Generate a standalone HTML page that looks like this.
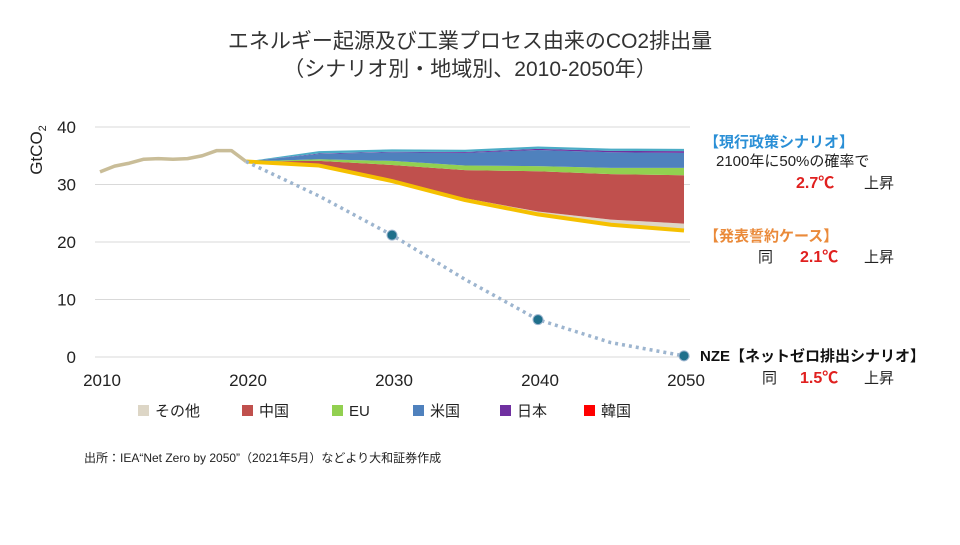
<!DOCTYPE html>
<html><head><meta charset="utf-8"><style>
body{margin:0;background:#fff;}
svg text{font-family:"Liberation Sans","Noto Sans CJK JP",sans-serif;}
</style></head><body>
<svg width="960" height="540" viewBox="0 0 960 540" xmlns="http://www.w3.org/2000/svg">
<g id="title">
<text x="470" y="48" text-anchor="middle" font-size="21" fill="#333">エネルギー起源及び工業プロセス由来のCO2排出量</text>
<text x="470" y="76" text-anchor="middle" font-size="21" fill="#333">（シナリオ別・地域別、2010-2050年）</text>
</g>
<g id="grid"></g>
<g id="areas"></g>
<g id="lines"></g>
<g id="axes"></g>
<text transform="translate(42,150) rotate(-90)" text-anchor="middle" font-size="17" fill="#222">GtCO<tspan font-size="11" dy="4">2</tspan></text>
<g>
<text x="704" y="147" font-size="15" font-weight="bold" fill="#2a8fd6">【現行政策シナリオ】</text>
<text x="716" y="166" font-size="15" fill="#222">2100年に50%の確率で</text>
<text x="796" y="188" font-size="16" font-weight="bold" fill="#e0201f">2.7℃</text>
<text x="864" y="188" font-size="15" fill="#222">上昇</text>
</g>
<g>
<text x="704" y="241" font-size="15" font-weight="bold" fill="#ea8a3a">【発表誓約ケース】</text>
<text x="758" y="262" font-size="15" fill="#222">同</text>
<text x="800" y="262" font-size="16" font-weight="bold" fill="#e0201f">2.1℃</text>
<text x="864" y="262" font-size="15" fill="#222">上昇</text>
</g>
<g>
<text x="700" y="361" font-size="15" font-weight="bold" fill="#111">NZE【ネットゼロ排出シナリオ】</text>
<text x="762" y="383" font-size="15" fill="#222">同</text>
<text x="800" y="383" font-size="16" font-weight="bold" fill="#e0201f">1.5℃</text>
<text x="864" y="383" font-size="15" fill="#222">上昇</text>
</g>
<g id="legend"></g>
<text x="84" y="462" font-size="12" fill="#222">出所：IEA“Net Zero by 2050”（2021年5月）などより大和証券作成</text>
</svg>
<script>
const histYears=[2010,2011,2012,2013,2014,2015,2016,2017,2018,2019,2020];
const histValues=[32.2,33.2,33.7,34.4,34.5,34.4,34.5,35.0,35.9,35.9,34.0];
const projYears=[2020,2025,2030,2035,2040,2045,2050];
const pledges=[34.0,33.3,30.6,27.3,24.8,23.0,22.0];
const other=[0,0,0.1,0.3,0.5,0.9,1.2];
const china=[0,0.8,2.7,4.9,7.0,7.9,8.4];
const eu=[0,0.3,0.7,0.8,0.9,1.1,1.3];
const us=[0,0.9,1.5,2.2,2.8,2.7,2.6];
const japan=[0,0.1,0.1,0.15,0.2,0.25,0.3];
const korea=[0,0.4,0.4,0.4,0.4,0.4,0.4];
const nzeYears=[2020,2025,2030,2035,2040,2045,2050];
const nzeValues=[34.0,28.0,21.2,13.5,6.5,2.5,0.2];
const nzeMarkers=[2030,2040,2050];
const yTicks=[0,10,20,30,40];
const xTicks=[2010,2020,2030,2040,2050];
const legendLabels=["その他","中国","EU","米国","日本","韓国"];
const legendColors=["#ddd6c6","#c0504d","#92d050","#4f81bd","#7030a0","#ff0000"];

const NS="http://www.w3.org/2000/svg";
const X=y=>100+(y-2010)*(584/40);
const Y=v=>357-v*5.75;
function mk(tag,attrs,parent){const e=document.createElementNS(NS,tag);for(const k in attrs)e.setAttribute(k,attrs[k]);document.getElementById(parent).appendChild(e);return e;}

yTicks.forEach(t=>{
 const l=mk('line',{x1:95,x2:690,y1:Y(t),y2:Y(t),stroke:'#d9d9d9','stroke-width':1},'grid');
 
 
 const tx=mk('text',{x:76,y:Y(t)+6,'text-anchor':'end','font-size':17,fill:'#222'},'axes');
 tx.textContent=t;
 
 
});
xTicks.forEach(t=>{
 const tx=mk('text',{x:X(t)+2,y:386,'text-anchor':'middle','font-size':17,fill:'#222'},'axes');
 tx.textContent=t;
 
 
});

// stacked areas
const layers=[
 {d:other,c:'#ddd6c6',n:'area-other'},
 {d:china,c:'#c0504d',n:'area-china'},
 {d:eu,c:'#92d050',n:'area-eu'},
 {d:us,c:'#4f81bd',n:'area-us'},
 {d:japan,c:'#7030a0',n:'area-japan'},
 {d:korea,c:'#4bacc6',n:'area-korea'}
];
let base=pledges.slice();
layers.forEach(L=>{
 const top=base.map((b,i)=>b+L.d[i]);
 let p='M'+projYears.map((y,i)=>X(y)+','+Y(top[i])).join(' L');
 for(let i=projYears.length-1;i>=0;i--)p+=' L'+X(projYears[i])+','+Y(base[i]);
 const e=mk('path',{d:p+'Z',fill:L.c},'areas');
 
 
 base=top;
});
const pl=mk('polyline',{points:projYears.map((y,i)=>X(y)+','+Y(pledges[i])).join(' '),fill:'none',stroke:'#f5c000','stroke-width':4,'stroke-linejoin':'round'},'lines');


const hl=mk('polyline',{points:histYears.map((y,i)=>X(y)+','+Y(histValues[i])).join(' '),fill:'none',stroke:'#c9bd98','stroke-width':3.5,'stroke-linejoin':'round'},'lines');


const nl=mk('polyline',{points:nzeYears.map((y,i)=>X(y)+','+Y(nzeValues[i])).join(' '),fill:'none',stroke:'#9db5cf','stroke-width':3.5,'stroke-dasharray':'3 4'},'lines');


nzeMarkers.forEach(y=>{
 const v=nzeValues[nzeYears.indexOf(y)];
 const c=mk('circle',{cx:X(y),cy:Y(v),r:5,fill:'#1f6f8b',stroke:'#9db5cf','stroke-width':1},'lines');
 
 
});
// legend
const lx=[138,242,332,413,500,584];
legendLabels.forEach((lab,i)=>{
 const r=mk('rect',{x:lx[i],y:405,width:11,height:11,fill:legendColors[i]},'legend');
 
 
 const t=mk('text',{x:lx[i]+17,y:416,'font-size':15,fill:'#222'},'legend');
 t.textContent=lab;
 
 
});
</script>
</body></html>
